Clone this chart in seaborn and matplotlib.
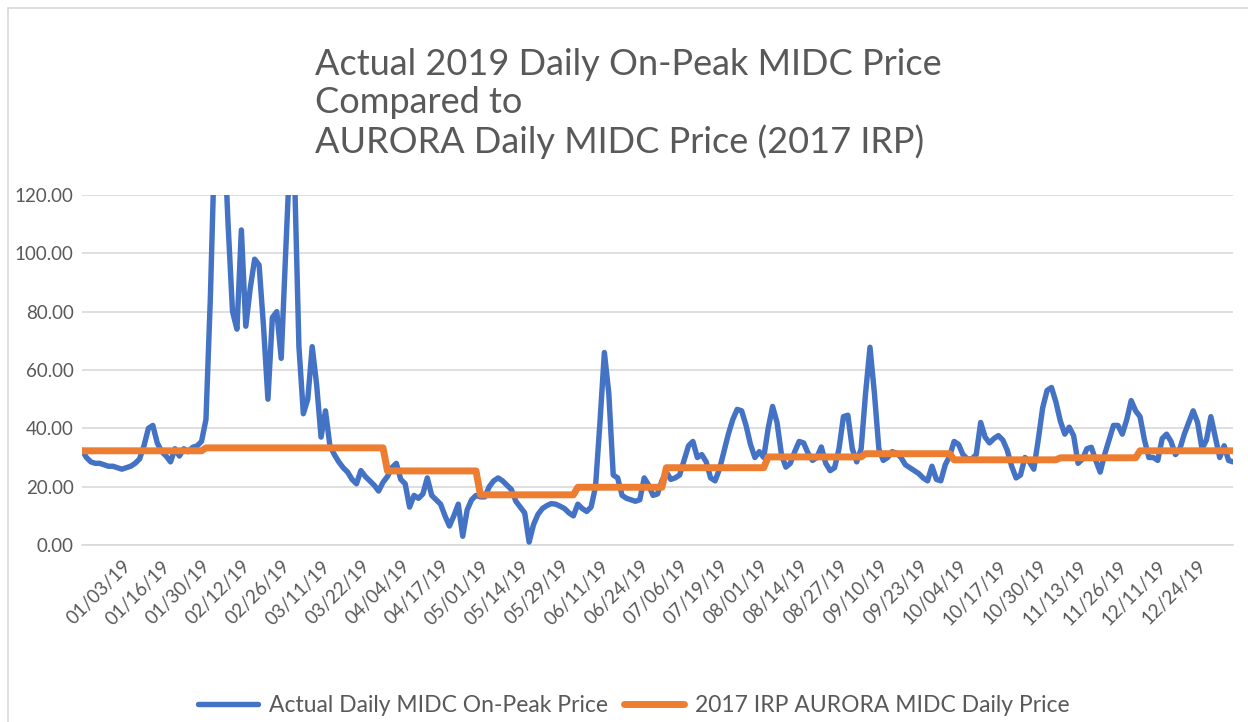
import numpy as np
import pandas as pd
import matplotlib
matplotlib.use("Agg")
import matplotlib.pyplot as plt
import seaborn as sns
from matplotlib.ticker import FuncFormatter, FixedLocator

# daily on-peak price ($/MWh), one value per trading day
actual_price = [
    32.5, 30, 28.5, 28, 28, 27.5, 27, 27, 26.5, 26,
    26.5, 27, 28, 29.5, 34, 40, 41, 35, 32, 30.5,
    28.5, 33, 30.5, 33, 32, 33.5, 34, 35.5, 43, 85,
    140, 158, 145, 110, 80, 74, 108, 75, 88, 98,
    96, 75, 50, 78, 80, 64, 100, 135, 128, 68,
    45, 50, 68, 55, 37, 46, 34, 31, 28.5, 26.5,
    25, 22.5, 21, 25.5, 23.5, 22, 20.5, 18.5, 21.5, 23.5,
    26.5, 28, 22.5, 21, 13, 17, 16, 17.5, 23, 17,
    15.5, 14, 10, 6.5, 10, 14, 3, 12, 15.5, 17,
    16.5, 16.5, 20, 22, 23, 22, 20.5, 19, 15, 13,
    11, 1, 7, 10.5, 12.5, 13.5, 14.2, 14, 13.3, 12.5,
    11, 10, 14, 12.5, 11.5, 13, 20, 42, 66, 52,
    24, 23, 17, 16, 15.5, 15, 15.5, 23, 20.5, 17,
    17.5, 22, 25, 22.5, 23, 24, 29, 34, 35.5, 30,
    31, 28.5, 23, 22, 26, 32, 38, 43, 46.5, 46,
    41, 34.5, 30, 32, 30, 40, 47.5, 42, 31, 26.7,
    28, 32, 35.5, 35, 31.5, 29, 30, 33.6, 28, 25.5,
    26.5, 33, 44, 44.5, 33, 28.5, 33, 52, 67.8, 52,
    33, 29, 30, 32, 31.5, 30, 27.5, 26.5, 25.5, 24.5,
    23, 22, 27, 22.5, 22, 27.5, 30.5, 35.5, 34.5, 31,
    29.5, 29.5, 31, 42, 37, 35, 36.5, 37.5, 36, 32.5,
    27, 23, 24, 30, 28.5, 26, 36, 47, 53, 54,
    49, 42.5, 38, 40.4, 37.5, 28, 29.5, 33, 33.5, 29,
    25, 31, 36, 41, 41, 38, 43, 49.5, 46, 44,
    36, 30, 30, 29, 36.5, 38, 35.5, 31, 33, 38,
    42, 46, 42, 33, 36, 44, 37, 30, 34, 29,
    28.5,
]

# AURORA forecast is flat within each period
aurora_price = [32.3, 33.3, 25.4, 17.2, 19.8, 26.5, 30.2, 31.3, 29.2, 29.9, 32.3]
aurora_days = [28, 41, 21, 22, 20, 23, 22, 20, 24, 18, 22]

tick_labels = [
    "01/03/19", "01/16/19", "01/30/19", "02/12/19", "02/26/19", "03/11/19",
    "03/22/19", "04/04/19", "04/17/19", "05/01/19", "05/14/19", "05/29/19",
    "06/11/19", "06/24/19", "07/06/19", "07/19/19", "08/01/19", "08/14/19",
    "08/27/19", "09/10/19", "09/23/19", "10/04/19", "10/17/19", "10/30/19",
    "11/13/19", "11/26/19", "12/11/19", "12/24/19",
]
first_tick = 9
tick_every = 9

df = pd.DataFrame({
    "day": np.arange(len(actual_price)),
    "actual": actual_price,
    "aurora": np.repeat(aurora_price, aurora_days),
})

sns.set_theme(style="white")
plt.rcParams["font.family"] = ["Lato", "DejaVu Sans"]

grey = "#595959"
blue = "#4472C4"
orange = "#ED7D31"

fig = plt.figure(figsize=(12.48, 7.22), dpi=100)
ax = fig.add_axes([82 / 1248, 1 - 545 / 722, 1151 / 1248, 350 / 722])

sns.lineplot(data=df, x="day", y="actual", ax=ax, color=blue, linewidth=3.9,
             label="Actual Daily MIDC On-Peak Price", zorder=3)
sns.lineplot(data=df, x="day", y="aurora", ax=ax, color=orange, linewidth=5.0,
             label="2017 IRP AURORA MIDC Daily Price", zorder=4)

ax.set_ylim(0, 120)
ax.set_xlim(0, len(actual_price) - 1)
ax.yaxis.set_major_locator(FixedLocator(np.arange(0, 121, 20)))
ax.yaxis.set_major_formatter(FuncFormatter(lambda v, p: f"{v:.2f}"))
ax.yaxis.grid(True, color="#D9D9D9", linewidth=1.2)
ax.xaxis.grid(False)

ticks = [first_tick + tick_every * k for k in range(len(tick_labels))]
ax.set_xticks(ticks)
ax.set_xticklabels(tick_labels, rotation=45, ha="right", rotation_mode="anchor")
ax.tick_params(axis="x", length=0, pad=9, labelsize=13.5, labelcolor=grey)
ax.tick_params(axis="y", length=0, pad=6, labelsize=13.5, labelcolor=grey)

ax.set_xlabel("")
ax.set_ylabel("")
for s in ["top", "right", "left"]:
    ax.spines[s].set_visible(False)
ax.spines["bottom"].set_color("#D9D9D9")
ax.spines["bottom"].set_linewidth(1.2)

handles, labels = ax.get_legend_handles_labels()
ax.get_legend().remove()
fig.legend(handles, labels, loc="center", bbox_to_anchor=(0.508, 1 - 706 / 722),
           ncol=2, frameon=False, fontsize=16.5, labelcolor=grey,
           handlelength=2.6, columnspacing=0.7, handletextpad=0.5)

fig.text(315 / 1248, 1 - 48 / 722,
         "Actual 2019 Daily On-Peak MIDC Price\nCompared to\nAURORA Daily MIDC Price (2017 IRP)",
         ha="left", va="top", fontsize=26, color=grey, linespacing=1.18)

# chart area outline
fig.add_artist(plt.Line2D([8 / 1248, 8 / 1248], [0, 1 - 8 / 722], color="#D9D9D9", lw=1.2))
fig.add_artist(plt.Line2D([8 / 1248, 1], [1 - 8 / 722, 1 - 8 / 722], color="#D9D9D9", lw=1.2))

plt.savefig("out.png", dpi=100)
